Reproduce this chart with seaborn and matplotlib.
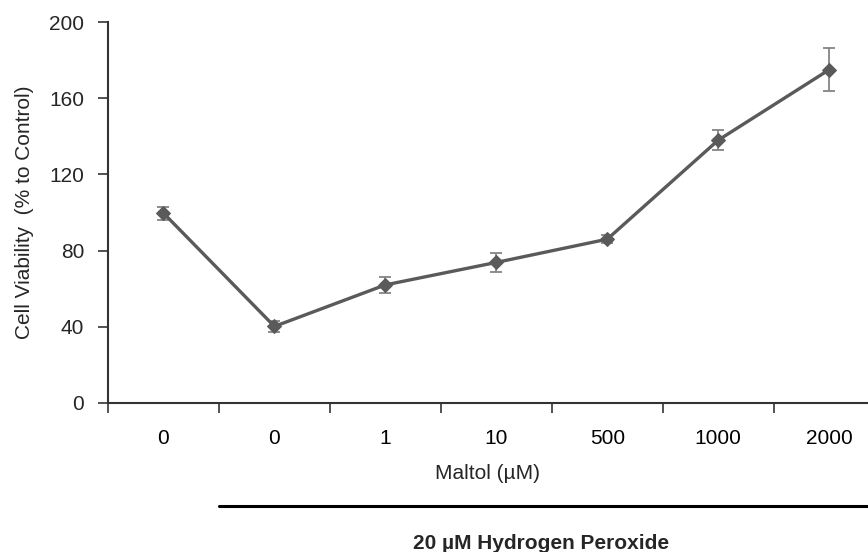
import matplotlib
matplotlib.use("Agg")
import matplotlib.pyplot as plt
import seaborn as sns
import numpy as np
import pandas as pd

categories = ["0", "0", "1", "10", "500", "1000", "2000"]
viability = [99.7, 40.2, 62.0, 73.8, 86.0, 138.0, 175.0]
errors = [3.4, 3.0, 4.2, 5.0, 2.0, 5.3, 11.3]
yticks = [0, 40, 80, 120, 160, 200]

sns.set_theme(style="white")
plt.rcParams['font.family'] = ['Liberation Sans', 'DejaVu Sans']

df = pd.DataFrame({"pos": np.arange(len(categories)), "val": viability, "err": errors})

fig = plt.figure(figsize=(8.68, 5.52), dpi=100)
ax = fig.add_axes([0.1244, 0.27, 0.8756, 0.69])

ax.errorbar(df["pos"], df["val"], yerr=df["err"], fmt="none", ecolor="#858585",
            elinewidth=1.3, capsize=4, capthick=1.3, zorder=2)
sns.lineplot(data=df, x="pos", y="val", ax=ax, color="#5a5a5a", linewidth=2.4,
             marker="D", markersize=7, markeredgecolor="#5a5a5a", zorder=3)

fs = 15
ax.set_xlim(-0.5, 6.35)
ax.set_ylim(0, 200)
ax.set_yticks(yticks)
ax.set_yticklabels([str(t) for t in yticks], fontsize=fs)
ax.set_xticks(np.arange(len(categories)))
ax.set_xticklabels(categories, fontsize=fs)
ax.set_xticks(np.arange(len(categories)) - 0.5, minor=True)
ax.tick_params(axis="x", which="major", length=0, pad=19, colors="black")
ax.tick_params(axis="x", which="minor", length=7, width=1.2, direction="out", color="#333333", bottom=True)
ax.tick_params(axis="y", which="major", length=7, width=1.2, direction="out", color="#333333", left=True, pad=10)

for s in ["top", "right"]:
    ax.spines[s].set_visible(False)
for s in ["left", "bottom"]:
    ax.spines[s].set_color("#333333")
    ax.spines[s].set_linewidth(1.5)

ax.set_xlabel("Maltol (µM)", fontsize=fs, labelpad=11)
ax.set_ylabel("Cell Viability  (% to Control)", fontsize=fs, labelpad=11)

# bracket line for hydrogen peroxide treatment
trans = ax.get_xaxis_transform()
ax.plot([0.5, 6.35], [-0.27, -0.27], transform=trans, color="black", linewidth=2.2, clip_on=False)
ax.text(3.4, -0.37, "20 µM Hydrogen Peroxide", transform=trans, ha="center", va="center",
        fontsize=fs, fontweight="bold")

fig.savefig("out.png", dpi=100)
